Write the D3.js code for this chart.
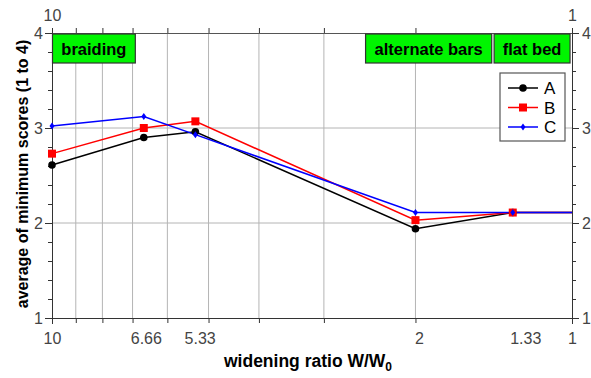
<!DOCTYPE html>
<html>
<head>
<meta charset="utf-8">
<script src="https://cdn.jsdelivr.net/npm/d3@7"></script>
<style>
  body { margin: 0; background: #fff; }
  text { font-family: "Liberation Sans", Arial, sans-serif; }
</style>
</head>
<body>
<div id="chart"></div>
<script>
// data
var ratios = [10, 6.66, 5.3, 2, 1.3, 1];
var seriesA = [2.61, 2.90, 2.96, 1.94, 2.11, 2.11];
var seriesB = [2.73, 3.00, 3.07, 2.03, 2.11, 2.11];
var seriesC = [3.02, 3.12, 2.93, 2.11, 2.11, 2.11];
var seriesNames = ['A', 'B', 'C'];
var seriesColors = ['#000000', '#ff0000', '#0000ff'];

// x tick labels and where they sit on the log axis
var xTickLabels = ['10', '6.66', '5.33', '2', '1.33', '1'];
var xTickSpots = [10, 6.6, 5.2, 1.97, 1.23, 1];
var xGrid = [9, 8, 7, 6, 5, 4, 3, 2];
var yTicks = [1, 2, 3, 4];

// regime boxes: [label, left ratio, right ratio]
var regimes = [['braiding', 10, 6.93], ['alternate bars', 2.5, 1.43], ['flat bed', 1.415, 1.011]];

var svgWidth = 591;
var svgHeight = 378;

var margin = { top: 33, bottom: 60, right: 19, left: 52 };
var width = svgWidth - margin.left - margin.right;
var height = svgHeight - margin.top - margin.bottom;

var svg = d3.select('#chart')
    .append('svg')
    .attr('width', svgWidth)
    .attr('height', svgHeight);

var chartGroup = svg.append('g')
    .attr('transform', `translate(${margin.left}, ${margin.top})`);

var xScale = d3.scaleLog()
    .domain([10, 1])
    .range([0, width]);

var yScale = d3.scaleLinear()
    .domain([1, 4])
    .range([height, 0]);

var gridColor = '#b4b4b4';
var labelColor = '#444';

// gridlines
chartGroup.selectAll('.vgrid')
    .data(xGrid)
    .enter()
    .append('line')
    .attr('x1', d => xScale(d))
    .attr('x2', d => xScale(d))
    .attr('y1', 0)
    .attr('y2', height)
    .attr('stroke', gridColor)
    .attr('stroke-width', 1);

chartGroup.selectAll('.hgrid')
    .data([2, 3])
    .enter()
    .append('line')
    .attr('x1', 0)
    .attr('x2', width)
    .attr('y1', d => yScale(d))
    .attr('y2', d => yScale(d))
    .attr('stroke', gridColor)
    .attr('stroke-width', 1);

// axes
function styleAxis(g) {
    g.select('.domain').attr('stroke', '#333');
    g.selectAll('.tick line').attr('stroke', '#333');
    g.selectAll('.tick text')
        .attr('fill', labelColor)
        .style('font-size', '16px')
        .style('font-family', '"Liberation Sans", Arial, sans-serif');
}

var bottomMinor = chartGroup.append('g')
    .attr('transform', `translate(0, ${height})`)
    .call(d3.axisBottom(xScale).tickValues(xGrid).tickSize(5).tickFormat(''));
styleAxis(bottomMinor);
bottomMinor.select('.domain').remove();

var bottomAxis = chartGroup.append('g')
    .attr('transform', `translate(0, ${height})`)
    .call(d3.axisBottom(xScale).tickValues(xTickSpots).tickSize(0).tickPadding(15)
        .tickFormat((d, i) => xTickLabels[i]));
styleAxis(bottomAxis);

chartGroup.append('g')
    .attr('transform', `translate(0, ${height})`)
    .call(d3.axisBottom(xScale).tickValues([10, 1]).tickSize(6).tickFormat(''))
    .call(styleAxis)
    .select('.domain').remove();

var topAxis = chartGroup.append('g')
    .call(d3.axisTop(xScale).tickValues([10].concat(xGrid).concat([1])).tickSize(5).tickPadding(7)
        .tickFormat(d => (d === 10 || d === 1) ? d3.format('d')(d) : ''));
styleAxis(topAxis);
topAxis.select('.domain').attr('stroke', '#555');

var minorY = d3.range(1, 4.001, 0.2);

var leftAxis = chartGroup.append('g')
    .call(d3.axisLeft(yScale).tickValues(yTicks).tickSize(7).tickPadding(2).tickFormat(d3.format('d')));
styleAxis(leftAxis);
chartGroup.append('g')
    .call(d3.axisLeft(yScale).tickValues(minorY).tickSize(4).tickFormat(''))
    .call(styleAxis)
    .select('.domain').remove();

var rightAxis = chartGroup.append('g')
    .attr('transform', `translate(${width}, 0)`)
    .call(d3.axisRight(yScale).tickValues(yTicks).tickSize(7).tickPadding(3).tickFormat(d3.format('d')));
styleAxis(rightAxis);
chartGroup.append('g')
    .attr('transform', `translate(${width}, 0)`)
    .call(d3.axisRight(yScale).tickValues(minorY).tickSize(4).tickFormat(''))
    .call(styleAxis)
    .select('.domain').remove();

// regime boxes
var boxTop = 1;
var boxH = 29;
var regimeGroup = chartGroup.selectAll('.regime')
    .data(regimes)
    .enter()
    .append('g');

regimeGroup.append('rect')
    .attr('x', d => xScale(d[1]) + 0.5)
    .attr('y', boxTop)
    .attr('width', d => xScale(d[2]) - xScale(d[1]))
    .attr('height', boxH)
    .attr('fill', '#00f500')
    .attr('stroke', '#333')
    .attr('stroke-width', 1.2);

regimeGroup.append('text')
    .attr('x', d => (xScale(d[1]) + xScale(d[2])) / 2 + 0.5)
    .attr('y', boxTop + 21)
    .attr('text-anchor', 'middle')
    .style('font-size', '16.5px')
    .style('font-weight', 'bold')
    .attr('fill', '#000')
    .text(d => d[0]);

// series
var allSeries = [seriesA, seriesB, seriesC];

var line = d3.line()
    .x(d => xScale(d[0]))
    .y(d => yScale(d[1]));

allSeries.forEach(function (vals, i) {
    var pts = ratios.map((r, j) => [r, vals[j]]);
    chartGroup.append('path')
        .datum(pts)
        .attr('d', line)
        .attr('fill', 'none')
        .attr('stroke', seriesColors[i])
        .attr('stroke-width', 1.5);
});

function drawMarker(g, kind, color, x, y) {
    if (kind === 0) {
        g.append('circle').attr('cx', x).attr('cy', y).attr('r', 3.8).attr('fill', color);
    } else if (kind === 1) {
        g.append('rect').attr('x', x - 4).attr('y', y - 4).attr('width', 8).attr('height', 8).attr('fill', color);
    } else {
        g.append('path')
            .attr('d', `M${x},${y - 3.5}L${x + 2.5},${y}L${x},${y + 3.5}L${x - 2.5},${y}Z`)
            .attr('fill', color);
    }
}

allSeries.forEach(function (vals, i) {
    var g = chartGroup.append('g');
    ratios.slice(0, 5).forEach(function (r, j) {
        drawMarker(g, i, seriesColors[i], xScale(r), yScale(vals[j]));
    });
});

// legend
var legend = chartGroup.append('g')
    .attr('transform', `translate(${width - 72}, 40)`);

legend.append('rect')
    .attr('x', 0)
    .attr('y', 0)
    .attr('width', 65)
    .attr('height', 68)
    .attr('fill', '#fff')
    .attr('stroke', '#555')
    .attr('stroke-width', 1.2);

seriesNames.forEach(function (name, i) {
    var ly = 15 + i * 19.5;
    legend.append('line')
        .attr('x1', 8)
        .attr('x2', 38)
        .attr('y1', ly)
        .attr('y2', ly)
        .attr('stroke', seriesColors[i])
        .attr('stroke-width', 1.5);
    drawMarker(legend, i, seriesColors[i], 23, ly);
    legend.append('text')
        .attr('x', 44)
        .attr('y', ly + 6)
        .style('font-size', '17px')
        .attr('fill', '#000')
        .text(name);
});

// axis titles
svg.append('text')
    .attr('x', 308)
    .attr('y', 367)
    .attr('text-anchor', 'middle')
    .style('font-size', '17.5px')
    .style('font-weight', 'bold')
    .attr('fill', '#000')
    .text('widening ratio W/W')
    .append('tspan')
    .attr('dy', 4)
    .style('font-size', '12px')
    .text('0');

svg.append('text')
    .attr('transform', `translate(28, 174) rotate(-90)`)
    .attr('text-anchor', 'middle')
    .style('font-size', '16px')
    .style('font-weight', 'bold')
    .attr('fill', '#000')
    .text('average of minimum scores (1 to 4)');
</script>
</body>
</html>
